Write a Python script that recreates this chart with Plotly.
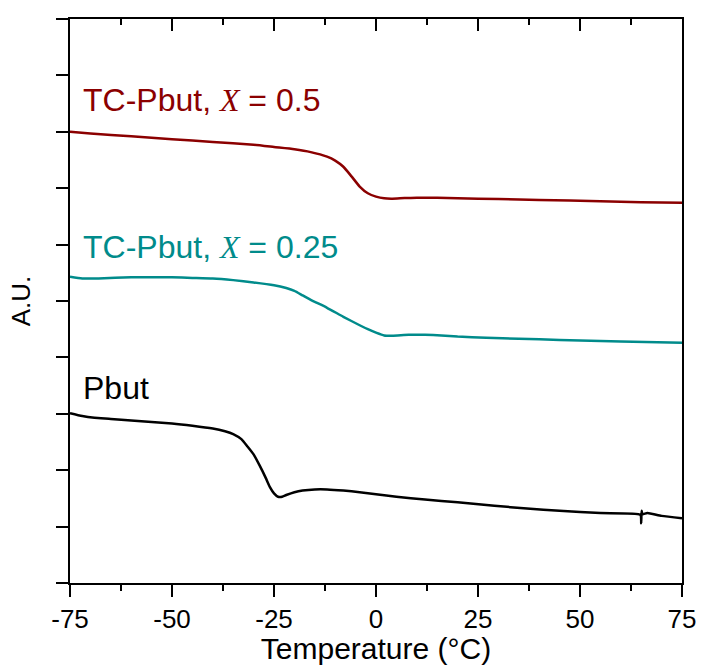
import plotly.graph_objects as go

# ---- data ----
temp_tc05 = [-75, -70, -60, -50, -40, -30, -25, -20, -16, -12, -10, -8, -6, -4, -2, 0, 2, 4, 7, 10, 15, 20, 30, 40, 55, 65, 75]
au_tc05 = [8.00, 7.97, 7.92, 7.87, 7.82, 7.77, 7.73, 7.69, 7.64, 7.56, 7.49, 7.38, 7.21, 7.03, 6.91, 6.85, 6.82, 6.815, 6.825, 6.83, 6.83, 6.82, 6.81, 6.79, 6.77, 6.75, 6.74]

temp_tc025 = [-75, -72, -68, -60, -50, -45, -40, -35, -30, -25, -22, -20, -18, -16, -12, -8, -4, -2, 0, 2, 4, 8, 12, 16, 20, 27, 35, 45, 60, 75]
au_tc025 = [5.43, 5.40, 5.40, 5.42, 5.42, 5.41, 5.40, 5.37, 5.33, 5.28, 5.23, 5.18, 5.10, 5.02, 4.88, 4.72, 4.57, 4.50, 4.44, 4.39, 4.385, 4.40, 4.40, 4.39, 4.37, 4.35, 4.33, 4.31, 4.28, 4.26]

temp_pbut = [-75, -72, -69, -65, -60, -50, -45, -40, -37, -35, -33, -31.5, -30, -28.5, -27, -26, -25, -24, -23, -22, -20, -18, -15, -12, -8, -4, 0, 5, 12, 20, 29, 37, 45, 55, 64.8, 65.0, 65.1, 65.3, 66.5, 70, 75]
au_pbut = [3.01, 2.96, 2.93, 2.91, 2.88, 2.83, 2.79, 2.74, 2.69, 2.64, 2.55, 2.42, 2.28, 2.08, 1.86, 1.70, 1.59, 1.53, 1.53, 1.56, 1.61, 1.64, 1.66, 1.66, 1.64, 1.61, 1.575, 1.53, 1.48, 1.43, 1.37, 1.32, 1.28, 1.24, 1.21, 1.06, 1.28, 1.22, 1.24, 1.19, 1.15]

x_ticks = [-75, -50, -25, 0, 25, 50, 75]
x_ticklabels = ["-75", "-50", "-25", "0", "25", "50", "75"]
y_range = [0, 10]

labels = ["TC-Pbut, <span style='font-family:Liberation Serif'><i>X</i></span> = 0.5",
          "TC-Pbut, <span style='font-family:Liberation Serif'><i>X</i></span> = 0.25",
          "Pbut"]
label_y = [8.56, 5.96, 3.45]

RED = "#8B0000"
TEAL = "#008B8B"
BLACK = "#000000"
FONT = "Liberation Sans, Arial, sans-serif"

W, H = 701, 665
MARGIN = dict(l=70, r=19, t=19, b=82)
plot_h = H - MARGIN["t"] - MARGIN["b"]

fig = go.Figure()
for xs, ys, c in [(temp_tc05, au_tc05, RED), (temp_tc025, au_tc025, TEAL), (temp_pbut, au_pbut, BLACK)]:
    fig.add_trace(go.Scatter(x=xs, y=ys, mode="lines",
                             line=dict(color=c, width=2.5, shape="spline", smoothing=0.5),
                             showlegend=False, hoverinfo="skip"))

for txt, yv, c in zip(labels, label_y, [RED, TEAL, BLACK]):
    fig.add_annotation(x=-72.3, y=yv, xref="x", yref="y", text=txt, showarrow=False,
                       xanchor="left", yanchor="middle",
                       font=dict(family=FONT, size=32, color=c))

# inward tick marks on the top frame (major at the x ticks, minor halfway between)
units_per_px = (y_range[1] - y_range[0]) / plot_h
minor_ticks = [(a + b) / 2 for a, b in zip(x_ticks[:-1], x_ticks[1:])]
for xv, ln in [(v, 12) for v in x_ticks[1:-1]] + [(v, 6) for v in minor_ticks]:
    fig.add_shape(type="line", xref="x", yref="y", x0=xv, x1=xv,
                  y0=y_range[1], y1=y_range[1] - ln * units_per_px,
                  line=dict(color="black", width=2), layer="above")

fig.update_layout(
    width=W, height=H,
    margin=MARGIN,
    paper_bgcolor="white", plot_bgcolor="white",
    font=dict(family=FONT, color="black"),
    xaxis=dict(range=[-75, 75], tickvals=x_ticks, ticktext=x_ticklabels, automargin=False,
               ticks="outside", ticklen=12, tickwidth=2, tickcolor="black",
               minor=dict(ticks="outside", ticklen=6, tickwidth=2, tickcolor="black", dtick=12.5, tick0=-75),
               showline=True, mirror=True, linecolor="black", linewidth=2, showgrid=False, zeroline=False,
               tickfont=dict(size=26, family=FONT),
               title=dict(text="Temperature (°C)", font=dict(size=30, family=FONT), standoff=4)),
    yaxis=dict(range=y_range, dtick=1, tick0=0, ticks="outside", ticklen=12, tickwidth=2, tickcolor="black",
               showticklabels=False, showline=True, mirror=True, linecolor="black", linewidth=2,
               showgrid=False, zeroline=False, automargin=False,
               title=dict(text="A.U.", font=dict(size=26, family=FONT), standoff=18)),
)

fig.write_html("out.html")
